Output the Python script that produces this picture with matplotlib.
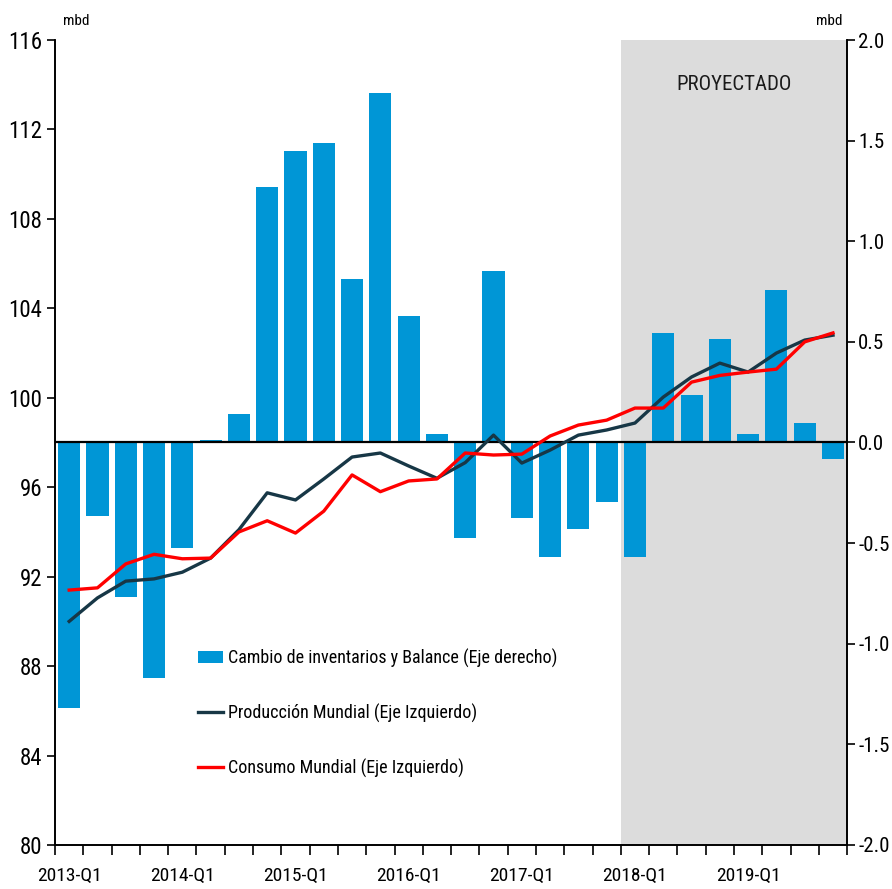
import matplotlib
matplotlib.use('Agg')
import matplotlib.pyplot as plt
from matplotlib import font_manager
from matplotlib.patches import Patch
from matplotlib.lines import Line2D
import numpy as np

# pick the narrowest family that is installed
installed = {f.name for f in font_manager.fontManager.ttflist}
family = 'DejaVu Sans'
for name in ['Liberation Sans Narrow', 'Roboto Condensed', 'Open Sans Condensed',
             'Liberation Sans', 'Roboto']:
    if name in installed:
        family = name
        break
plt.rcParams['font.family'] = [family, 'DejaVu Sans']

# Quarters 2013-Q1 .. 2019-Q4
quarters = [f'{y}-Q{q}' for y in range(2013, 2020) for q in range(1, 5)]

# Cambio de inventarios y Balance (right axis, mbd)
balance = [-1.32, -0.365, -0.77, -1.17, -0.525, 0.01, 0.14, 1.27,
           1.45, 1.49, 0.81, 1.735, 0.63, 0.04, -0.475, 0.85,
           -0.375, -0.57, -0.43, -0.295, -0.57, 0.545, 0.235, 0.515,
           0.04, 0.76, 0.095, -0.08]

# Producción Mundial (left axis, mbd)
produccion = [90.0, 91.05, 91.8, 91.9, 92.2, 92.83, 94.1, 95.75,
              95.43, 96.37, 97.35, 97.53, 96.95, 96.4, 97.1, 98.33,
              97.08, 97.66, 98.33, 98.56, 98.87, 100.03, 100.93, 101.55,
              101.15, 102.0, 102.58, 102.8]

# Consumo Mundial (left axis, mbd)
consumo = [91.4, 91.5, 92.57, 93.0, 92.8, 92.83, 94.0, 94.5,
           93.95, 94.93, 96.55, 95.8, 96.28, 96.37, 97.53, 97.44,
           97.48, 98.29, 98.78, 99.0, 99.54, 99.54, 100.7, 101.0,
           101.15, 101.28, 102.5, 102.9]

proj_start = quarters.index('2018-Q1')

bar_color = '#0096D6'
prod_color = '#173746'
cons_color = '#FF0000'

x = np.arange(len(quarters))

fig = plt.figure(figsize=(8.92, 8.89), dpi=100)
ax = fig.add_axes([0.0617, 0.0495, 0.888, 0.9055])
ax2 = ax.twinx()

# bars + shading on right axis, lines on left axis on top
ax2.axvspan(proj_start - 0.5, len(quarters) - 0.5, color='#DCDCDC', lw=0, zorder=0)
ax2.bar(x, balance, width=0.78, color=bar_color, zorder=2)
ax2.axhline(0, color='black', lw=1.6, zorder=3)
ax2.set_ylim(-2.0, 2.0)
ax2.set_yticks(np.arange(-2.0, 2.01, 0.5))
ax2.set_yticklabels([f'{v:.1f}' for v in np.arange(-2.0, 2.01, 0.5)])

ax.set_zorder(ax2.get_zorder() + 1)
ax.patch.set_visible(False)
ax.plot(x, produccion, color=prod_color, lw=2.4, zorder=5)
ax.plot(x, consumo, color=cons_color, lw=2.4, zorder=6)
ax.set_ylim(80, 116)
ax.set_yticks(np.arange(80, 117, 4))
ax.set_xlim(-0.5, len(quarters) - 0.5)

# x ticks: labels at Q1, tick marks at quarter boundaries
q1_idx = [i for i, q in enumerate(quarters) if q.endswith('Q1')]
ax.set_xticks(q1_idx)
ax.set_xticklabels([quarters[i] for i in q1_idx], fontsize=14)
ax.set_xticks(np.arange(-0.5, len(quarters), 1), minor=True)
ax.tick_params(axis='x', which='major', length=0, pad=16)
ax.tick_params(axis='x', which='minor', length=7, width=1.2, direction='out')
ax.tick_params(axis='y', labelsize=16.5, length=6, width=1.2, pad=3)
ax2.tick_params(axis='y', labelsize=15, length=6, width=1.2, pad=2)

for a in (ax, ax2):
    a.spines['top'].set_visible(False)
    for s in ('left', 'right', 'bottom'):
        a.spines[s].set_linewidth(1.2)

fig.text(0.071, 0.976, 'mbd', fontsize=11, ha='left', va='center')
fig.text(0.944, 0.976, 'mbd', fontsize=11, ha='right', va='center')

ax2.text((proj_start - 0.5 + len(quarters) - 0.5) / 2, 1.78, 'PROYECTADO',
         fontsize=15, ha='center', va='center', color='#1a1a1a', zorder=4)

handles = [Patch(facecolor=bar_color, edgecolor='none'),
           Line2D([], [], color=prod_color, lw=2.4),
           Line2D([], [], color=cons_color, lw=2.4)]
labels = ['Cambio de inventarios y Balance (Eje derecho)',
          'Producción Mundial (Eje Izquierdo)',
          'Consumo Mundial (Eje Izquierdo)']
leg = fig.legend(handles, labels, loc='upper left',
                 bbox_to_anchor=(0.204, 0.289), frameon=False,
                 fontsize=13, handlelength=1.35, handletextpad=0.28,
                 labelspacing=2.0)
leg.set_zorder(10)

fig.savefig('out.png', dpi=100)
